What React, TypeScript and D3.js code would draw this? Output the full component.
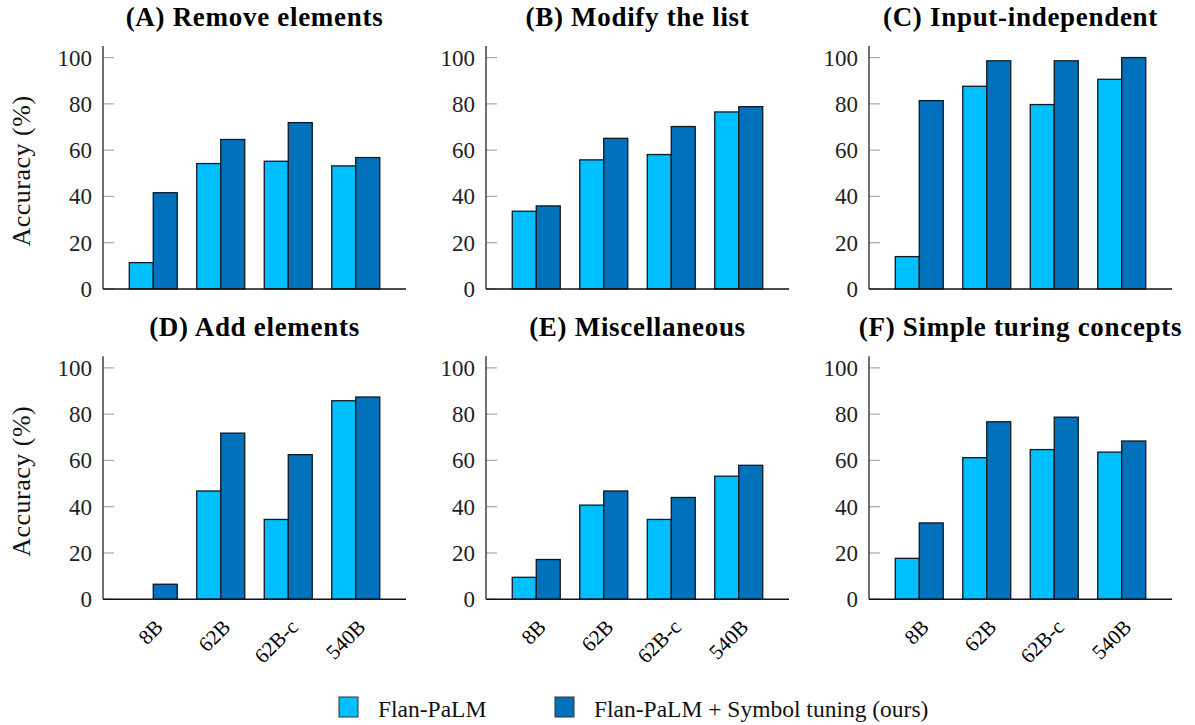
import React from 'react';
import * as d3 from 'd3';

// Symbol tuning results, grouped bars per task family (six panels)

const models = ['8B', '62B', '62B-c', '540B'];
const seriesNames = ['Flan-PaLM', 'Flan-PaLM + Symbol tuning (ours)'];
const seriesColors = ['#00BFFF', '#0071BA'];
const yTicks = [0, 20, 40, 60, 80, 100];

const panelTitles = [
  '(A) Remove elements',
  '(B) Modify the list',
  '(C) Input-independent',
  '(D) Add elements',
  '(E) Miscellaneous',
  '(F) Simple turing concepts',
];

// [Flan-PaLM, Symbol tuning] per model, one list per panel
const removeElements = [[11.4, 41.6], [54.2, 64.6], [55.2, 71.9], [53.2, 56.8]];
const modifyList = [[33.6, 35.9], [55.8, 65.1], [58.1, 70.2], [76.5, 78.8]];
const inputIndependent = [[14.0, 81.4], [87.6, 98.6], [79.7, 98.6], [90.6, 100]];
const addElements = [[0, 6.5], [46.8, 71.8], [34.5, 62.5], [85.8, 87.4]];
const miscellaneous = [[9.5, 17.2], [40.7, 46.8], [34.5, 44.0], [53.2, 57.9]];
const turingConcepts = [[17.7, 33.0], [61.2, 76.7], [64.7, 78.7], [63.6, 68.4]];

const panelData = [removeElements, modifyList, inputIndependent, addElements, miscellaneous, turingConcepts];

const W = 1195;
const H = 725;
const COL_X = [103, 486, 869];
const AXIS_W = 303;
const ROW_Y0 = [289, 599.3];
const PLOT_H = 243; // 0..105
const SERIF = '"Liberation Serif", "Times New Roman", serif';

const Panel = ({ idx }: { idx: number }) => {
  const col = idx % 3;
  const row = Math.floor(idx / 3);
  const x0 = COL_X[col];
  const y0 = ROW_Y0[row];
  const data = panelData[idx];

  const x = d3.scaleBand<string>().domain(models).range([x0, x0 + AXIS_W]).paddingInner(0.289).paddingOuter(0.389);
  const xs = d3.scaleBand<number>().domain([0, 1]).range([0, x.bandwidth()]);
  const y = d3.scaleLinear().domain([0, 105]).range([y0, y0 - PLOT_H]);

  return (
    <g>
      <text
        x={x0 + AXIS_W / 2}
        y={row === 0 ? 26 : 336}
        textAnchor="middle"
        fontFamily={SERIF}
        fontWeight="bold"
        fontSize={27}
        letterSpacing={0.7}
        fill="#000"
      >
        {panelTitles[idx]}
      </text>

      {yTicks.map((t) => (
        <g key={t}>
          <line x1={x0} x2={x0 + 11} y1={y(t)} y2={y(t)} stroke="#a8a8a8" strokeWidth={1.2} />
          <text x={x0 - 11} y={y(t)} dy="0.35em" textAnchor="end" fontFamily={SERIF} fontSize={23} fill="#222">
            {t}
          </text>
        </g>
      ))}

      {models.map((m, i) =>
        data[i].map((v, s) => (
          <rect
            key={`${m}-${s}`}
            x={(x(m) as number) + (xs(s) as number)}
            y={y(v)}
            width={xs.bandwidth()}
            height={y(0) - y(v)}
            fill={seriesColors[s]}
            stroke={v === 0 ? '#ddd' : '#101820'}
            strokeWidth={1.3}
          />
        )),
      )}

      <line x1={x0} x2={x0} y1={y0} y2={y(105)} stroke="#222" strokeWidth={1.3} />
      <line x1={x0} x2={x0 + AXIS_W} y1={y0} y2={y0} stroke="#111" strokeWidth={1.5} />

      {row === 1 &&
        models.map((m) => {
          const cx = (x(m) as number) + x.bandwidth() / 2 + 11;
          const cy = y0 + 29;
          return (
            <text
              key={m}
              x={cx}
              y={cy}
              textAnchor="end"
              transform={`rotate(-45, ${cx}, ${cy})`}
              fontFamily={SERIF}
              fontSize={21}
              fill="#000"
            >
              {m}
            </text>
          );
        })}

      {col === 0 && (
        <text
          transform={`translate(21, ${y0 - 118}) rotate(-90)`}
          textAnchor="middle"
          dy="0.35em"
          fontFamily={SERIF}
          fontSize={26}
          letterSpacing={0.5}
          fill="#111"
        >
          Accuracy (%)
        </text>
      )}
    </g>
  );
};

const legendX = [339, 555];

export default function App() {
  return (
    <svg
      width={W}
      height={H}
      viewBox={`0 0 ${W} ${H}`}
      style={{ position: 'absolute', left: 0, top: 0, background: '#fff' }}
    >
      <rect width={W} height={H} fill="#fff" />
      {panelData.map((_, i) => (
        <Panel key={i} idx={i} />
      ))}
      {seriesNames.map((name, i) => (
        <g key={name}>
          <rect x={legendX[i]} y={697} width={19} height={20} fill={seriesColors[i]} stroke="#333" strokeWidth={1} />
          <text x={legendX[i] + 39} y={717} fontFamily={SERIF} fontSize={23.5} fill="#111">
            {name}
          </text>
        </g>
      ))}
    </svg>
  );
}
